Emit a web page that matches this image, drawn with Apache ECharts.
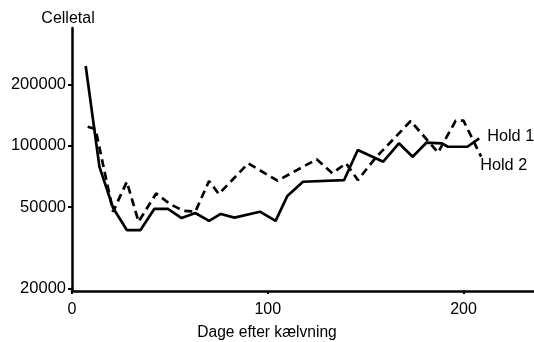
<!DOCTYPE html>
<html>
<head>
<meta charset="utf-8">
<script src="https://cdn.jsdelivr.net/npm/echarts@6/dist/echarts.min.js"></script>
<style>
  html, body { margin: 0; padding: 0; background: #fff; }
  #chart { width: 534px; height: 342px; }
</style>
</head>
<body>
<div id="chart"></div>
<script>
// Somatic cell count per herd over days after calving
const hold1Days = [7, 14, 21, 28, 35, 42, 49, 56, 63, 70, 76, 83, 96, 104, 110, 118, 139, 146, 159, 167, 174, 181, 189, 192, 202, 208];
const hold1Cells = [246000, 79000, 49500, 38600, 38600, 49000, 49000, 44200, 46800, 42800, 46300, 44400, 47500, 42800, 56700, 66600, 67900, 95300, 83500, 102800, 88400, 103500, 102800, 98900, 98900, 108800];

const hold2Days = [8, 12, 21, 28, 34, 43, 50, 57, 63, 70, 75, 90, 105, 125, 133, 140, 146, 155, 173, 187, 196, 200, 209];
const hold2Cells = [124000, 120800, 47500, 66600, 42400, 58400, 51800, 48000, 47500, 67200, 58000, 82000, 67400, 85800, 73300, 82000, 67900, 87100, 132200, 92700, 132700, 132700, 88400];

const xTicks = [0, 100, 200];
const yTicks = [20000, 50000, 100000, 200000];

const font = 'Liberation Sans, Arial, Helvetica, sans-serif';

function pairs(xs, ys) {
  return xs.map((x, i) => [x, ys[i]]);
}

const chart = echarts.init(document.getElementById('chart'), null, { renderer: 'canvas' });

chart.setOption({
  animation: false,
  backgroundColor: '#ffffff',
  grid: { left: 72, right: 0, top: 28, bottom: 51, containLabel: false, outerBoundsMode: 'none' },
  xAxis: {
    type: 'value',
    min: 0,
    max: 236,
    name: 'Dage efter kælvning',
    nameLocation: 'middle',
    nameGap: 34,
    nameTextStyle: { color: '#000', fontSize: 15.6, fontFamily: font, padding: [0, 72, 0, 0] },
    axisLine: { lineStyle: { color: '#000', width: 2.5 } },
    axisTick: { show: true, length: 3, inside: false, customValues: xTicks, lineStyle: { color: '#000', width: 2 } },
    axisLabel: { customValues: xTicks, color: '#000', fontSize: 16, fontFamily: font, margin: 11 },
    splitLine: { show: false }
  },
  yAxis: {
    type: 'log',
    logBase: 10,
    min: 19400,
    max: 378000,
    name: 'Celletal',
    nameLocation: 'end',
    nameGap: 1,
    nameTextStyle: { color: '#000', fontSize: 16, fontFamily: font, align: 'center', padding: [0, 8, 0, 0] },
    axisLine: { show: true, lineStyle: { color: '#000', width: 2.5 } },
    axisTick: { show: true, length: 4, inside: false, customValues: yTicks, lineStyle: { color: '#000', width: 2 } },
    axisLabel: {
      customValues: yTicks,
      formatter: (v) => String(Math.round(v)),
      color: '#000',
      fontSize: 16.5,
      fontFamily: font,
      margin: 6
    },
    splitLine: { show: false },
    minorTick: { show: false }
  },
  series: [
    {
      name: 'Hold 1',
      type: 'line',
      data: pairs(hold1Days, hold1Cells),
      showSymbol: false,
      lineStyle: { color: '#000', width: 2.7, type: 'solid' },
      endLabel: {
        show: true,
        formatter: '{a}',
        color: '#000',
        fontSize: 16.3,
        fontFamily: font,
        offset: [0, -2]
      }
    },
    {
      name: 'Hold 2',
      type: 'line',
      data: pairs(hold2Days, hold2Cells),
      showSymbol: false,
      lineStyle: { color: '#000', width: 2.7, type: [8, 5] },
      endLabel: {
        show: true,
        formatter: '{a}',
        color: '#000',
        fontSize: 16.3,
        fontFamily: font,
        offset: [-9, 9]
      }
    }
  ]
});
</script>
</body>
</html>
